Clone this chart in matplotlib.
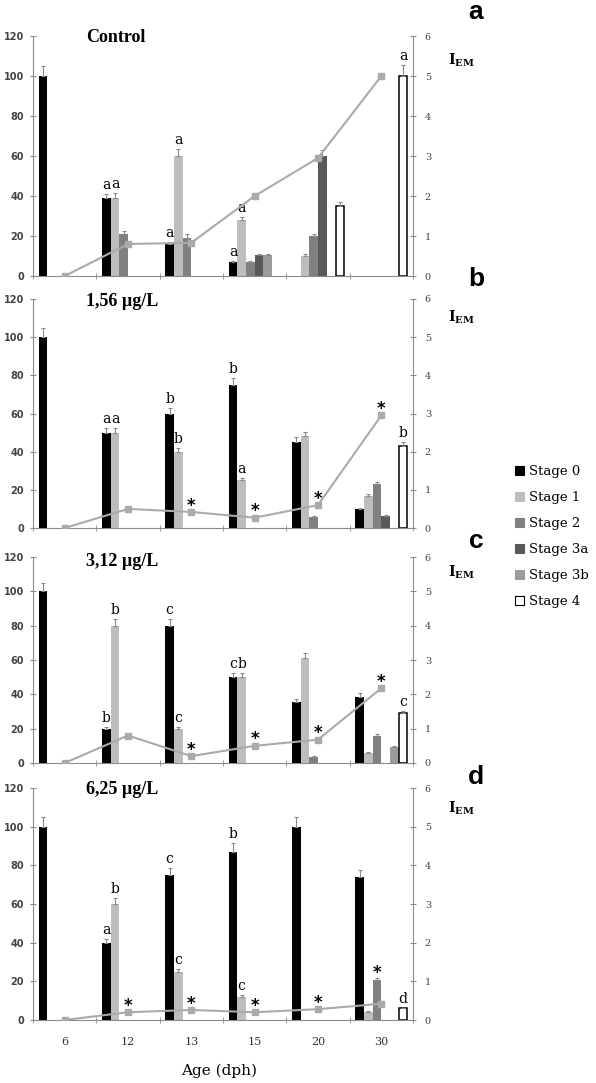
import numpy as np
import matplotlib.pyplot as plt
from matplotlib.patches import Patch

plt.rcParams['font.family'] = ['DejaVu Serif']

ages = ["6", "12", "13", "15", "20", "30"]
stages = ["Stage 0", "Stage 1", "Stage 2", "Stage 3a", "Stage 3b", "Stage 4"]
stage_colors = ["#000000", "#bdbdbd", "#808080", "#595959", "#9c9c9c", "#ffffff"]
titles = ["Control", "1,56 µg/L", "3,12 µg/L", "6,25 µg/L"]
panel_letters = ["a", "b", "c", "d"]

# % of larvae per stage (rows = stages, cols = ages)
ctrl_pct = [[100, 39, 16, 7, 0, 0],
            [0, 39, 60, 28, 10, 0],
            [0, 21, 19, 7, 20, 0],
            [0, 0, 0, 10.5, 60, 0],
            [0, 0, 0, 10.5, 0, 0],
            [0, 0, 0, 0, 35, 100]]
ctrl_err = [[5, 2, 1, 0.7, 0, 0],
            [0, 2.5, 3.5, 1.5, 0.8, 0],
            [0, 1.5, 2, 0.7, 1.2, 0],
            [0, 0, 0, 0.6, 3, 0],
            [0, 0, 0, 0.6, 0, 0],
            [0, 0, 0, 0, 1.8, 5.5]]
ctrl_iem = [0, 0.8, 0.83, 2.0, 2.95, 5.0]
ctrl_letters = [(1, 0, "a"), (1, 1, "a"), (2, 0, "a"), (2, 1, "a"),
                (3, 0, "a"), (3, 1, "a"), (5, 5, "a")]
ctrl_line_stars = []
ctrl_bar_stars = []

low_pct = [[100, 50, 60, 75, 45, 10],
           [0, 50, 40, 25, 48, 17],
           [0, 0, 0, 0, 6, 23],
           [0, 0, 0, 0, 0, 6.5],
           [0, 0, 0, 0, 0, 0],
           [0, 0, 0, 0, 0, 43]]
low_err = [[5, 2.5, 3, 3.5, 2.5, 0.5],
           [0, 2.5, 2, 1, 2.5, 0.7],
           [0, 0, 0, 0, 0.5, 1],
           [0, 0, 0, 0, 0, 0.4],
           [0, 0, 0, 0, 0, 0],
           [0, 0, 0, 0, 0, 2]]
low_iem = [0, 0.5, 0.42, 0.27, 0.6, 2.95]
low_letters = [(1, 0, "a"), (1, 1, "a"), (2, 0, "b"), (2, 1, "b"),
               (3, 0, "b"), (3, 1, "a"), (5, 5, "b")]
low_line_stars = [2, 3, 4, 5]
low_bar_stars = []

mid_pct = [[100, 20, 80, 50, 35.5, 38.5],
           [0, 80, 20, 50, 61, 6],
           [0, 0, 0, 0, 3.5, 16],
           [0, 0, 0, 0, 0, 0],
           [0, 0, 0, 0, 0, 9.5],
           [0, 0, 0, 0, 0, 29]]
mid_err = [[5, 1, 4, 2.5, 2, 2],
           [0, 4, 1, 2.5, 3, 0.5],
           [0, 0, 0, 0, 0.3, 1],
           [0, 0, 0, 0, 0, 0],
           [0, 0, 0, 0, 0, 0.5],
           [0, 0, 0, 0, 0, 1.5]]
mid_iem = [0, 0.8, 0.2, 0.5, 0.68, 2.18]
mid_letters = [(1, 0, "b"), (1, 1, "b"), (2, 0, "c"), (2, 1, "c"),
               (3, 0, "c"), (3, 1, "b"), (5, 5, "c")]
mid_line_stars = [2, 3, 4, 5]
mid_bar_stars = []

high_pct = [[100, 40, 75, 87, 100, 74],
            [0, 60, 25, 12, 0, 4],
            [0, 0, 0, 0, 0, 20.5],
            [0, 0, 0, 0, 0, 0],
            [0, 0, 0, 0, 0, 0],
            [0, 0, 0, 0, 0, 6]]
high_err = [[5, 2, 3.5, 4.5, 5, 3.5],
            [0, 3, 1.3, 1, 0, 0.4],
            [0, 0, 0, 0, 0, 1],
            [0, 0, 0, 0, 0, 0],
            [0, 0, 0, 0, 0, 0],
            [0, 0, 0, 0, 0, 0]]
high_iem = [0, 0.2, 0.26, 0.2, 0.28, 0.42]
high_letters = [(1, 0, "a"), (1, 1, "b"), (2, 0, "c"), (2, 1, "c"),
                (3, 0, "b"), (3, 1, "c"), (5, 5, "d")]
high_line_stars = [1, 2, 3, 4]
high_bar_stars = [(5, 2)]

panels = [
    (ctrl_pct, ctrl_err, ctrl_iem, ctrl_letters, ctrl_line_stars, ctrl_bar_stars),
    (low_pct, low_err, low_iem, low_letters, low_line_stars, low_bar_stars),
    (mid_pct, mid_err, mid_iem, mid_letters, mid_line_stars, mid_bar_stars),
    (high_pct, high_err, high_iem, high_letters, high_line_stars, high_bar_stars),
]

W, H = 596, 1083
# pixel boxes of the plot areas: left, top, right, bottom
boxes = [(33, 36, 413, 276), (33, 299, 413, 528), (33, 557, 413, 763), (33, 788, 413, 1020)]
title_y = [38, 302, 562, 790]
iem_y = [60, 317, 572, 808]
letter_y = [12, 279, 541, 777]

axis_col = "#8c8c8c"
fig = plt.figure(figsize=(W / 100, H / 100), dpi=100)

width = 1 / 7.3
x = np.arange(len(ages))

for p, (pct, err, iem, letters, line_stars, bar_stars) in enumerate(panels):
    l, t, r, b = boxes[p]
    ax = fig.add_axes([l / W, 1 - b / H, (r - l) / W, (b - t) / H])
    for j, stage in enumerate(stages):
        vals = np.array(pct[j], dtype=float)
        errs = np.array(err[j], dtype=float)
        keep = vals > 0
        xs = x[keep] + (j - 2.5) * width
        if j == 5:
            ax.bar(xs, vals[keep], width * 0.95, color="white", edgecolor="black", linewidth=1.1, zorder=2)
        else:
            ax.bar(xs, vals[keep], width, color=stage_colors[j], linewidth=0, zorder=2)
        ax.errorbar(xs, vals[keep], yerr=[np.zeros(keep.sum()), errs[keep]], fmt="none",
                    ecolor="#8a8a8a", elinewidth=0.8, capsize=1.5, capthick=0.8, zorder=3)

    for i, j, txt in letters:
        ax.annotate(txt, (i + (j - 2.5) * width, pct[j][i] + err[j][i]), xytext=(0, 1.5),
                    textcoords="offset points", ha="center", va="bottom", size=10)
    for i, j in bar_stars:
        ax.annotate("*", (i + (j - 2.5) * width, pct[j][i] + err[j][i]), xytext=(0, 0),
                    textcoords="offset points", ha="center", va="baseline", size=12,
                    weight="bold", family="DejaVu Sans")

    ax.set_xlim(-0.5, len(ages) - 0.5)
    ax.set_ylim(0, 120)
    ax.set_yticks(np.arange(0, 121, 20))
    ax.set_xticks(x)
    ax.set_xticks(np.arange(-0.5, len(ages), 1), minor=True)
    if p == 3:
        ax.set_xticklabels(ages)
    else:
        ax.set_xticklabels([])
    ax.tick_params(axis="x", which="major", length=0, pad=12, labelsize=8, labelcolor="#333333")
    ax.tick_params(axis="x", which="minor", direction="inout", length=5, color=axis_col)
    ax.tick_params(axis="y", direction="inout", length=5, color=axis_col, labelsize=7,
                   labelcolor="#444444", pad=4)
    for lab in ax.get_yticklabels():
        lab.set_family("DejaVu Sans")
        lab.set_weight("bold")
    for s in ["top", "right"]:
        ax.spines[s].set_visible(False)
    for s in ["left", "bottom"]:
        ax.spines[s].set_color(axis_col)

    ax2 = ax.twinx()
    ax2.plot(x, iem, color="#aaaaaa", lw=1.5, marker="s", ms=4, zorder=4)
    for i in line_stars:
        ax2.annotate("*", (i, iem[i]), xytext=(0, 1), textcoords="offset points",
                     ha="center", va="baseline", size=12, weight="bold", family="DejaVu Sans")
    ax2.set_ylim(0, 6)
    ax2.set_yticks(np.arange(0, 7, 1))
    ax2.tick_params(axis="y", direction="inout", length=5, color=axis_col, labelsize=7,
                    labelcolor="#444444", pad=6)
    for s in ["top", "left", "bottom"]:
        ax2.spines[s].set_visible(False)
    ax2.spines["right"].set_color(axis_col)

    fig.text(86 / W, 1 - title_y[p] / H, titles[p], ha="left", va="center", size=13,
             weight="bold", family=["Liberation Serif", "DejaVu Serif"])
    fig.text(448 / W, 1 - iem_y[p] / H, r"$\mathregular{I_{EM}}$", ha="left", va="center",
             size=10, weight="bold")
    fig.text(476 / W, 1 - letter_y[p] / H, panel_letters[p], ha="center", va="center",
             size=19, weight="bold", family="Liberation Sans")

fig.text(219 / W, 1 - 1071 / H, "Age (dph)", ha="center", va="center", size=11)

handles = [Patch(facecolor=c, edgecolor=("black" if c == "#ffffff" else c), linewidth=0.8)
           for c in stage_colors]
fig.legend(handles, stages, loc="upper left", bbox_to_anchor=(515 / W, 1 - 465 / H),
           frameon=False, handlelength=0.7, handleheight=0.7, handletextpad=0.35,
           labelspacing=0.99, borderpad=0, borderaxespad=0, fontsize=9.5)

fig.savefig("out.png", dpi=100)
